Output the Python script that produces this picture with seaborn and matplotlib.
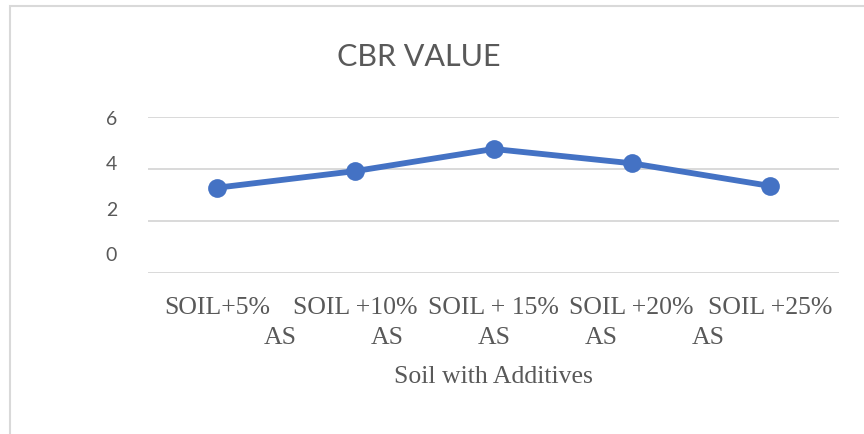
import seaborn as sns
import matplotlib.pyplot as plt
import pandas as pd
from matplotlib.patches import Rectangle

# values
mixes = ["SOIL+5%", "SOIL +10%", "SOIL + 15%", "SOIL +20%", "SOIL +25%"]
mix_suffix = ["AS", "AS", "AS", "AS", "AS"]
cbr_values = [3.28, 3.92, 4.77, 4.22, 3.35]
y_ticks = [0, 2, 4, 6]

TEXT_GREY = "#595959"
GRID_GREY = "#d9d9d9"
LINE_BLUE = "#4472c4"
SERIF = "Liberation Serif"
W, H = 864, 434

sns.set_style("white")
plt.rcParams["font.family"] = ["Lato", "DejaVu Sans"]

df = pd.DataFrame(
    {"mix": [f"{m} {s}" for m, s in zip(mixes, mix_suffix)], "cbr": cbr_values}
)

fig = plt.figure(figsize=(W / 100, H / 100), dpi=100)

# chart area border, cut off at the right and bottom like the reference
fig.add_artist(
    Rectangle(
        (10 / W, -0.1), 1.2, 1 - 6 / H + 0.1,
        transform=fig.transFigure, fill=False, edgecolor=GRID_GREY, lw=1.5,
    )
)

# plot area: gridlines + line
ax = fig.add_axes([148 / W, (H - 273) / H, 691 / W, 156 / H])
sns.lineplot(
    data=df, x="mix", y="cbr", sort=False, color=LINE_BLUE, linewidth=4.2,
    marker="o", markersize=13.5, markeredgewidth=0, ax=ax,
)
ax.set_xlim(-0.5, len(mixes) - 0.5)
ax.set_ylim(0, 6)
ax.set_yticks(y_ticks)
ax.set_xticks(range(len(mixes)), mixes)
ax.grid(axis="y", color=GRID_GREY, lw=1.4)
ax.grid(axis="x", visible=False)
ax.set_axisbelow(True)
ax.tick_params(left=False, labelleft=False)
ax.tick_params(
    axis="x", length=0, pad=17.3, labelsize=18.5, labelcolor=TEXT_GREY,
    labelfontfamily=SERIF,
)
ax.set_ylabel("")
ax.set_xlabel("Soil with Additives", fontsize=18.5, color=TEXT_GREY, fontfamily=SERIF)
ax.xaxis.set_label_coords(0.5, -0.596)
ax.set_title("CBR VALUE", x=0.3915, pad=36.5, fontsize=22, color=TEXT_GREY)
ax.set_frame_on(False)

# y labels sit in a slightly squeezed frame in the reference
lab = fig.add_axes([150 / W, (H - 254) / H, 512 / W, 136 / H])
lab.set_frame_on(False)
lab.set_ylim(0, 6)
lab.set_yticks(y_ticks)
lab.set_xticks([])
lab.tick_params(axis="y", length=0, pad=23.8, labelsize=14, labelcolor=TEXT_GREY)

# second line of the category labels
suf = fig.add_axes([226.5 / W, (H - 273) / H, 535 / W, 156 / H])
suf.set_frame_on(False)
suf.set_xlim(-0.5, len(mixes) - 0.5)
suf.set_xticks(range(len(mix_suffix)), mix_suffix)
suf.set_yticks([])
suf.tick_params(
    axis="x", length=0, pad=38.9, labelsize=18.5, labelcolor=TEXT_GREY,
    labelfontfamily=SERIF,
)

fig.savefig("out.png", dpi=100)
plt.close()
